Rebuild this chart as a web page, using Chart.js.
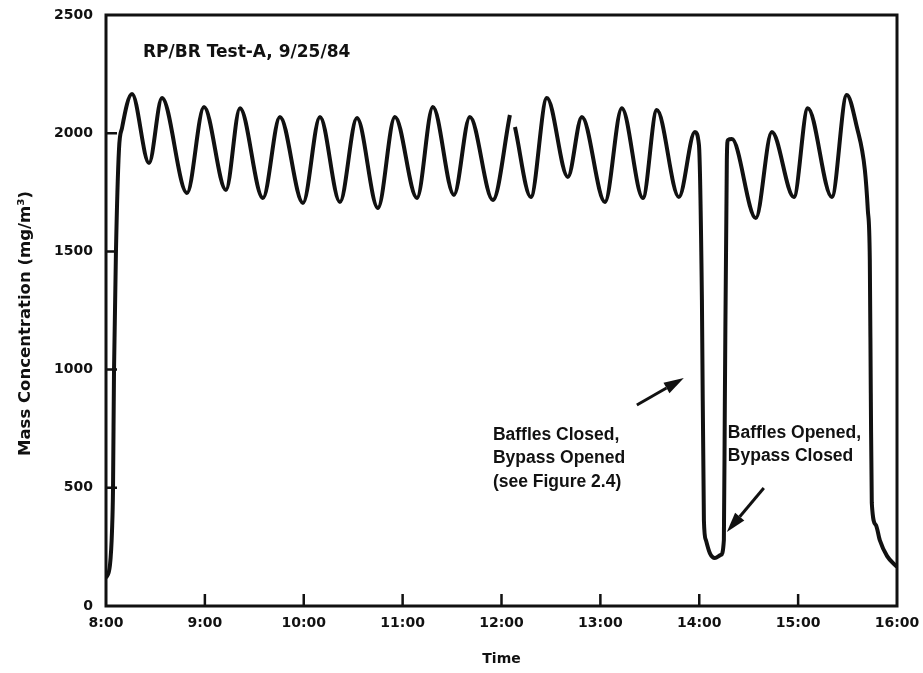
<!DOCTYPE html>
<html>
<head>
<meta charset="utf-8">
<script src="https://cdn.jsdelivr.net/npm/chart.js@4"></script>
<style>
  html, body { margin: 0; padding: 0; background: #fff; }
  #wrap { width: 923px; height: 673px; }
</style>
</head>
<body>
<div id="wrap"><canvas id="massChart"></canvas></div>
<script>
// time of day in decimal hours, concentration in mg/m3 (null = pen lift)
const times = [8.000, 8.040, 8.061, 8.071, 8.081, 8.101, 8.131, 8.162, 8.263, 8.435,
  8.566, 8.819, 8.991, 9.213, 9.355, 9.587, 9.759, 9.992, 10.164, 10.366,
  10.538, 10.750, 10.922, 11.145, 11.306, 11.519, 11.680, 11.913, 12.085, 12.110,
  12.136, 12.297, 12.459, 12.671, 12.813, 13.046, 13.217, 13.430, 13.571, 13.794,
  13.956, 13.997, 14.027, 14.047, 14.067, 14.107, 14.158, 14.219, 14.249, 14.259,
  14.279, 14.289, 14.330, 14.572, 14.734, 14.957, 15.098, 15.341, 15.492, 15.594,
  15.675, 15.705, 15.725, 15.735, 15.745, 15.786, 15.826, 15.900, 16.000];
const conc = [118, 173, 321, 499, 994, 1506, 1929, 2022, 2166, 1874,
  2149, 1747, 2111, 1760, 2106, 1726, 2069, 1705, 2069, 1709,
  2064, 1684, 2069, 1726, 2111, 1739, 2069, 1717, 2077, null,
  2026, 1730, 2149, 1815, 2069, 1709, 2106, 1726, 2098, 1730,
  2005, 1950, 1294, 364, 279, 224, 203, 216, 279, 871,
  1887, 1971, 1975, 1641, 2005, 1730, 2106, 1730, 2162, 2026,
  1844, 1675, 1464, 900, 436, 343, 279, 211, 165];

const yTicks = [0, 500, 1000, 1500, 2000, 2500];
const hourTicks = [8, 9, 10, 11, 12, 13, 14, 15, 16];

const yTitle = "Mass Concentration (mg/m³)";
const runLabel = "RP/BR Test-A, 9/25/84";
const noteClosed = ["Baffles Closed,", "Bypass Opened", "(see Figure 2.4)"];
const noteOpened = ["Baffles Opened,", "Bypass Closed"];
// anchor points in data units: [time, concentration]
const runLabelAt = [8.374, 2339];
const noteClosedAt = [11.913, 723];
const noteOpenedAt = [14.289, 732];
const arrowClosed = [[13.369, 850], [13.844, 964]];
const arrowOpened = [[14.653, 499], [14.279, 313]];

function drawArrow(ctx, x0, y0, x1, y1) {
  const ang = Math.atan2(y1 - y0, x1 - x0);
  const head = 20, half = 6;
  const bx = x1 - head * Math.cos(ang), by = y1 - head * Math.sin(ang);
  ctx.beginPath();
  ctx.moveTo(x0, y0);
  ctx.lineTo(bx, by);
  ctx.stroke();
  ctx.beginPath();
  ctx.moveTo(x1, y1);
  ctx.lineTo(bx + half * Math.sin(ang), by - half * Math.cos(ang));
  ctx.lineTo(bx - half * Math.sin(ang), by + half * Math.cos(ang));
  ctx.closePath();
  ctx.fill();
}

const frameAndNotes = {
  id: "frameAndNotes",
  afterDatasetsDraw(chart) {
    const { ctx, chartArea: a, scales: { x, y } } = chart;
    ctx.save();
    ctx.strokeStyle = "#111";
    ctx.fillStyle = "#111";
    ctx.lineCap = "butt";

    // inward tick marks
    ctx.lineWidth = 2.5;
    ctx.beginPath();
    hourTicks.slice(1, -1).forEach(h => {
      const px = x.getPixelForValue(h);
      ctx.moveTo(px, a.bottom);
      ctx.lineTo(px, a.bottom - 12);
    });
    yTicks.slice(1, -1).forEach(v => {
      const py = y.getPixelForValue(v);
      ctx.moveTo(a.left, py);
      ctx.lineTo(a.left + 11, py);
    });
    ctx.stroke();

    // plot frame
    ctx.lineWidth = 3;
    ctx.strokeRect(a.left, a.top, a.right - a.left, a.bottom - a.top);

    // y axis title, sits a little below the middle of the axis
    ctx.save();
    ctx.translate(26, (a.top + a.bottom) / 2 + 13);
    ctx.rotate(-Math.PI / 2);
    ctx.textAlign = "center";
    ctx.textBaseline = "middle";
    ctx.font = "bold 16.5px 'DejaVu Sans'";
    ctx.fillText(yTitle, 0, 0);
    ctx.restore();

    // text notes
    ctx.textBaseline = "middle";
    ctx.textAlign = "left";
    ctx.font = "bold 17px 'DejaVu Sans'";
    ctx.fillText(runLabel, x.getPixelForValue(runLabelAt[0]), y.getPixelForValue(runLabelAt[1]));

    ctx.font = "bold 17.5px 'Liberation Sans'";
    const lx = x.getPixelForValue(noteClosedAt[0]);
    const ly = y.getPixelForValue(noteClosedAt[1]);
    noteClosed.forEach((s, i) => ctx.fillText(s, lx, ly + i * 23.5));
    const rx = x.getPixelForValue(noteOpenedAt[0]);
    const ry = y.getPixelForValue(noteOpenedAt[1]);
    noteOpened.forEach((s, i) => ctx.fillText(s, rx, ry + i * 23.5));

    // arrows
    ctx.lineWidth = 3;
    [arrowClosed, arrowOpened].forEach(([p, q]) => {
      drawArrow(ctx,
        x.getPixelForValue(p[0]), y.getPixelForValue(p[1]),
        x.getPixelForValue(q[0]), y.getPixelForValue(q[1]));
    });
    ctx.restore();
  }
};

const tickFont = { family: "'DejaVu Sans'", size: 14, weight: "bold" };

new Chart(document.getElementById("massChart"), {
  type: "line",
  data: {
    datasets: [{
      data: times.map((t, i) => ({ x: t, y: conc[i] })),
      borderColor: "#111",
      borderWidth: 4,
      pointRadius: 0,
      cubicInterpolationMode: "monotone",
      spanGaps: false,
      fill: false
    }]
  },
  options: {
    responsive: true,
    maintainAspectRatio: false,
    animation: false,
    layout: { padding: { top: 15, right: 26, left: 0, bottom: 0 } },
    plugins: { legend: { display: false }, tooltip: { enabled: false } },
    scales: {
      x: {
        type: "linear",
        min: 8,
        max: 16,
        afterBuildTicks: s => { s.ticks = hourTicks.map(v => ({ value: v })); },
        afterFit: s => { s.height = 67; s.paddingLeft = 0; s.paddingRight = 0; },
        grid: { display: false, drawTicks: false },
        border: { display: false },
        ticks: {
          color: "#111",
          font: tickFont,
          padding: 9,
          maxRotation: 0,
          callback: v => v + ":00"
        },
        title: {
          display: true,
          text: "Time",
          color: "#111",
          font: { family: "'DejaVu Sans'", size: 14, weight: "bold" },
          padding: { top: 0, bottom: 5 }
        }
      },
      y: {
        min: 0,
        max: 2500,
        afterBuildTicks: s => { s.ticks = yTicks.map(v => ({ value: v })); },
        afterFit: s => { s.width = 106; s.paddingTop = 0; s.paddingBottom = 0; },
        grid: { display: false, drawTicks: false },
        border: { display: false },
        ticks: { color: "#111", font: tickFont, padding: 13, callback: v => String(v) }
      }
    }
  },
  plugins: [frameAndNotes]
});
</script>
</body>
</html>
